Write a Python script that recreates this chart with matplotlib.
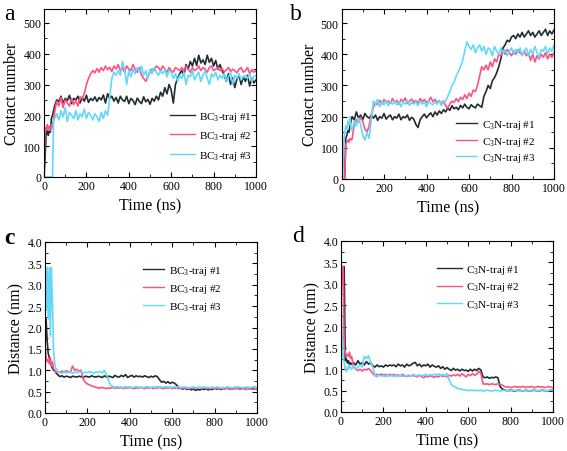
import numpy as np
import matplotlib
matplotlib.use("Agg")
import matplotlib.pyplot as plt
from matplotlib.ticker import MultipleLocator

plt.rcParams['font.family'] = ['Liberation Serif', 'DejaVu Serif']
plt.rcParams['mathtext.fontset'] = 'custom'
plt.rcParams['mathtext.rm'] = 'Liberation Serif'
plt.rcParams['mathtext.it'] = 'Liberation Serif:italic'

# time axis (ns): 5-ns steps up to 45, then 10-ns steps
time_ns = np.concatenate([np.arange(0, 50, 5), np.arange(50, 1001, 10)])

# ---- panel a: contact number, BC3 ----
bc3_contact_1 = [0, 60, 140, 150, 135, 150, 145, 190, 200, 215,
                 230, 250, 245, 262, 240, 255, 248, 265, 238, 255,
                 250, 262, 240, 258, 246, 265, 242, 255, 248, 260,
                 245, 258, 250, 266, 240, 270, 255, 262, 246, 258,
                 240, 262, 250, 245, 262, 238, 255, 248, 235, 256,
                 245, 238, 260, 244, 252, 236, 255, 246, 262, 250,
                 275, 262, 290, 270, 300, 282, 240, 300, 320, 335,
                 345, 330, 365, 350, 375, 360, 385, 362, 395, 370,
                 380, 365, 395, 372, 385, 360, 378, 350, 365, 345,
                 330, 310, 335, 300, 322, 290, 318, 330, 300, 325,
                 310, 330, 295, 320, 305, 315]
bc3_contact_2 = [20, 160, 150, 170, 155, 165, 150, 170, 160, 185,
                 210, 245, 230, 258, 225, 250, 240, 230, 255, 235,
                 248, 230, 260, 255, 270, 300, 320, 335, 345, 338,
                 352, 340, 355, 345, 360, 348, 356, 342, 360, 350,
                 365, 345, 355, 340, 360, 350, 345, 365, 350, 340,
                 355, 330, 320, 310, 325, 340, 350, 345, 360, 355,
                 345, 360, 350, 340, 355, 345, 340, 355, 350, 345,
                 355, 345, 360, 350, 340, 355, 345, 350, 360, 345,
                 355, 350, 340, 355, 360, 345, 350, 355, 345, 352,
                 340, 348, 355, 342, 350, 345, 338, 350, 355, 340,
                 345, 355, 335, 348, 340, 345]
bc3_contact_3 = [0, 0, 0, 0, 0, 0, 0, 0, 0, 180,
                 190, 205, 185, 215, 195, 225, 180, 210, 200, 190,
                 215, 185, 205, 195, 220, 190, 210, 200, 185, 205,
                 195, 180, 210, 190, 215, 200, 260, 320, 340, 330,
                 345, 330, 375, 350, 300, 345, 325, 350, 335, 355,
                 340, 360, 330, 345, 320, 350, 335, 355, 340, 330,
                 345, 335, 350, 325, 345, 340, 320, 335, 310, 330,
                 320, 340, 300, 330, 325, 345, 315, 330, 340, 310,
                 330, 345, 320, 300, 335, 325, 340, 315, 330, 320,
                 335, 310, 325, 340, 300, 330, 320, 335, 315, 325,
                 330, 320, 335, 310, 325, 330]

# ---- panel b: contact number, C3N ----
c3n_contact_1 = [0, 0, 0, 0, 130, 140, 155, 150, 170, 185,
                 200, 190, 215, 195, 205, 190, 210, 200, 195, 205,
                 195, 205, 188, 200, 195, 210, 192, 200, 205, 190,
                 200, 195, 208, 190, 200, 196, 205, 188, 198, 192,
                 175, 165, 190, 200, 208, 196, 205, 212, 200, 215,
                 205, 218, 210, 222, 215, 228, 220, 235, 225, 230,
                 222, 236, 228, 240, 230, 225, 238, 232, 228, 240,
                 235, 230, 265, 280, 300, 290, 315, 325, 340, 360,
                 385, 420, 430, 445, 440, 455, 460, 450, 465, 455,
                 470, 455, 465, 475, 460, 470, 455, 465, 475, 460,
                 470, 480, 460, 475, 465, 478]
c3n_contact_2 = [0, 0, 0, 0, 110, 120, 125, 118, 130, 125,
                 128, 175, 190, 182, 198, 185, 160, 150, 170, 205,
                 230, 245, 238, 252, 240, 255, 245, 250, 242, 258,
                 245, 252, 240, 255, 248, 260, 242, 250, 256, 245,
                 252, 242, 258, 248, 255, 245, 250, 262, 248, 255,
                 245, 252, 240, 250, 235, 228, 240, 250, 245, 258,
                 248, 262, 255, 270, 258, 275, 265, 285, 280, 300,
                 330, 360, 350, 365, 350, 375, 360, 385, 375, 400,
                 395, 410, 400, 415, 405, 395, 410, 400, 415, 405,
                 398, 410, 395, 405, 380, 400, 375, 395, 385, 400,
                 390, 405, 385, 400, 390, 405]
c3n_contact_3 = [0, 0, 100, 150, 170, 160, 185, 175, 200, 165,
                 155, 185, 170, 195, 175, 140, 125, 150, 130, 190,
                 250, 240, 255, 232, 248, 238, 252, 235, 248, 240,
                 250, 238, 245, 232, 248, 240, 252, 236, 245, 240,
                 248, 235, 250, 240, 246, 232, 250, 242, 238, 248,
                 240, 252, 236, 245, 250, 265, 280, 300, 310, 330,
                 345, 360, 380, 410, 440, 425, 415, 430, 405, 420,
                 430, 410, 425, 400, 420, 415, 395, 425, 410, 400,
                 420, 405, 415, 395, 410, 420, 400, 415, 405, 420,
                 395, 410, 420, 395, 415, 400, 425, 405, 390, 415,
                 410, 425, 400, 420, 410, 430]

# ---- panel c: distance, BC3 ----
bc3_dist_1 = [1.5, 2.2, 1.7, 1.4, 1.3, 1.2, 1.1, 1.05, 1.0, 1.0,
              0.95, 0.9, 0.85, 0.87, 0.84, 0.86, 0.85, 0.83, 0.86, 0.85,
              0.84, 0.86, 0.85, 0.83, 0.86, 0.85, 0.84, 0.87, 0.85, 0.84,
              0.86, 0.85, 0.83, 0.87, 0.84, 0.86, 0.85, 0.83, 0.88, 0.85,
              0.84, 0.88, 0.85, 0.9, 0.83, 0.86, 0.88, 0.84, 0.87, 0.85,
              0.86, 0.84, 0.87, 0.85, 0.83, 0.86, 0.84, 0.87, 0.85, 0.78,
              0.72, 0.74, 0.7, 0.73, 0.69, 0.72, 0.7, 0.66, 0.6, 0.58,
              0.56, 0.58, 0.55, 0.57, 0.54, 0.56, 0.53, 0.55, 0.54, 0.56,
              0.55, 0.57, 0.54, 0.56, 0.55, 0.58, 0.56, 0.57, 0.55, 0.58,
              0.57, 0.59, 0.56, 0.58, 0.57, 0.6, 0.58, 0.57, 0.59, 0.58,
              0.6, 0.57, 0.59, 0.58, 0.6, 0.58]
bc3_dist_2 = [1.6, 1.3, 1.2, 1.25, 1.15, 1.3, 1.1, 1.2, 1.05, 1.0,
              0.95, 0.97, 0.95, 0.98, 0.96, 0.99, 0.97, 0.95, 1.1, 1.0,
              1.02, 0.98, 1.0, 0.8, 0.72, 0.68, 0.66, 0.63, 0.62, 0.6,
              0.59, 0.58, 0.6, 0.58, 0.57, 0.59, 0.58, 0.6, 0.58, 0.59,
              0.58, 0.6, 0.57, 0.59, 0.58, 0.6, 0.58, 0.57, 0.59, 0.58,
              0.6, 0.58, 0.57, 0.59, 0.58, 0.6, 0.57, 0.59, 0.58, 0.6,
              0.58, 0.57, 0.59, 0.58, 0.6, 0.57, 0.58, 0.59, 0.57, 0.58,
              0.6, 0.58, 0.57, 0.59, 0.58, 0.57, 0.59, 0.58, 0.6, 0.57,
              0.58, 0.59, 0.57, 0.58, 0.6, 0.57, 0.58, 0.56, 0.58, 0.57,
              0.56, 0.58, 0.57, 0.55, 0.57, 0.56, 0.58, 0.55, 0.57, 0.56,
              0.55, 0.57, 0.56, 0.55, 0.56, 0.55]
bc3_dist_3 = [3.4, 2.4, 3.4, 2.2, 3.4, 1.8, 3.4, 2.6, 1.5, 1.2,
              1.05, 0.98, 0.95, 0.93, 0.96, 0.94, 0.95, 0.97, 0.93, 0.96,
              0.94, 0.97, 0.95, 0.93, 0.96, 0.94, 0.97, 0.95, 0.93, 0.96,
              0.95, 0.97, 0.94, 1.0, 0.9, 0.75, 0.65, 0.62, 0.6, 0.62,
              0.6, 0.61, 0.59, 0.62, 0.6, 0.61, 0.59, 0.6, 0.62, 0.6,
              0.61, 0.59, 0.6, 0.62, 0.6, 0.59, 0.61, 0.6, 0.62, 0.6,
              0.61, 0.6, 0.62, 0.6, 0.61, 0.59, 0.62, 0.6, 0.61, 0.6,
              0.59, 0.61, 0.6, 0.58, 0.6, 0.61, 0.59, 0.6, 0.58, 0.6,
              0.61, 0.59, 0.6, 0.58, 0.6, 0.59, 0.61, 0.6, 0.58, 0.6,
              0.59, 0.61, 0.6, 0.58, 0.6, 0.59, 0.61, 0.6, 0.59, 0.6,
              0.58, 0.6, 0.59, 0.61, 0.6, 0.59]

# ---- panel d: distance, C3N ----
c3n_dist_1 = [3.4, 3.4, 3.4, 3.4, 1.2, 1.25, 1.15, 1.2, 1.1, 1.15,
              1.12, 1.15, 1.1, 1.2, 1.12, 1.15, 1.1, 1.18, 1.12, 1.15,
              1.08, 1.05, 1.1, 1.06, 1.08, 1.05, 1.1, 1.07, 1.1, 1.08,
              1.1, 1.06, 1.12, 1.08, 1.1, 1.05, 1.12, 1.08, 1.1, 1.14,
              1.16, 1.08, 1.12, 1.06, 1.1, 1.08, 1.12, 1.05, 1.1, 1.07,
              1.05, 1.08, 1.02, 1.06, 1.0, 1.04, 1.0, 0.97, 1.02, 0.98,
              1.0, 0.96, 1.0, 0.97, 0.98, 0.95, 1.0, 0.96, 1.0, 0.97,
              1.02, 0.98, 0.82, 0.8, 0.82, 0.79, 0.81, 0.8, 0.82, 0.8,
              0.6, 0.54, 0.52, 0.5, 0.5, 0.51, 0.5, 0.49, 0.5, 0.51,
              0.5, 0.49, 0.51, 0.5, 0.49, 0.5, 0.51, 0.5, 0.49, 0.5,
              0.51, 0.5, 0.49, 0.5, 0.51, 0.5]
c3n_dist_2 = [2.5, 3.4, 3.4, 1.5, 1.4, 1.3, 1.35, 1.3, 1.4, 1.25,
              1.3, 1.05, 1.0, 0.97, 1.0, 0.96, 1.0, 0.98, 1.02, 0.97,
              0.9, 0.85, 0.88, 0.86, 0.89, 0.86, 0.88, 0.85, 0.88, 0.86,
              0.88, 0.85, 0.87, 0.84, 0.88, 0.85, 0.83, 0.86, 0.84, 0.87,
              0.84, 0.82, 0.86, 0.83, 0.8, 0.84, 0.82, 0.85, 0.83, 0.81,
              0.84, 0.82, 0.86, 0.83, 0.85, 0.82, 0.86, 0.84, 0.87, 0.85,
              0.88, 0.84, 0.9, 0.86, 0.82, 0.88, 0.85, 0.9, 0.86, 0.88,
              0.95, 0.9, 0.66, 0.65, 0.66, 0.64, 0.66, 0.65, 0.64, 0.66,
              0.65, 0.63, 0.6, 0.58, 0.59, 0.57, 0.58, 0.6, 0.58, 0.59,
              0.58, 0.6, 0.57, 0.59, 0.58, 0.6, 0.57, 0.58, 0.6, 0.58,
              0.59, 0.57, 0.58, 0.6, 0.58, 0.57]
c3n_dist_3 = [2.6, 1.8, 1.3, 1.15, 1.0, 0.95, 1.05, 1.0, 1.1, 1.05,
              1.0, 1.08, 1.0, 1.05, 1.1, 1.05, 1.3, 1.25, 1.32, 1.15,
              1.05, 0.85, 0.82, 0.86, 0.84, 0.85, 0.83, 0.86, 0.84, 0.85,
              0.83, 0.86, 0.84, 0.85, 0.83, 0.84, 0.86, 0.83, 0.85, 0.84,
              0.86, 0.84, 0.87, 0.85, 0.86, 0.88, 0.85, 0.87, 0.86, 0.88,
              0.87, 0.89, 0.86, 0.88, 0.85, 0.9, 0.75, 0.65, 0.6, 0.58,
              0.55, 0.54, 0.53, 0.52, 0.51, 0.5, 0.51, 0.5, 0.51, 0.5,
              0.5, 0.51, 0.49, 0.5, 0.51, 0.5, 0.49, 0.5, 0.51, 0.5,
              0.49, 0.5, 0.51, 0.5, 0.49, 0.5, 0.51, 0.5, 0.49, 0.5,
              0.5, 0.49, 0.51, 0.5, 0.49, 0.5, 0.51, 0.5, 0.49, 0.5,
              0.51, 0.5, 0.49, 0.5, 0.51, 0.5]

bc3_labels = [r'BC$_3$-traj #1', r'BC$_3$-traj #2', r'BC$_3$-traj #3']
c3n_labels = [r'C$_3$N-traj #1', r'C$_3$N-traj #2', r'C$_3$N-traj #3']
colors = ['#222c33', '#ff5283', '#62d8fa']

fig = plt.figure(figsize=(5.67, 4.52), dpi=100)
W, H = 567, 452


def make_ax(x0, x1, y0, y1):
    return fig.add_axes([x0 / W, 1 - y1 / H, (x1 - x0) / W, (y1 - y0) / H])


panels = [
    (make_ax(44, 256, 10, 178), [bc3_contact_1, bc3_contact_2, bc3_contact_3], bc3_labels,
     'Contact number', (0, 545), 100, 50, 'lower right', (1.03, 0.03), 0.6, 2.2, 'a', (4, 15), 'normal'),
    (make_ax(341.5, 554, 10, 180), [c3n_contact_1, c3n_contact_2, c3n_contact_3], c3n_labels,
     'Contact number', (0, 545), 100, 50, 'lower right', (0.96, 0.03), 0.3, 1.9, 'b', (290, 15), 'normal'),
    (make_ax(45, 257, 243, 414), [bc3_dist_1, bc3_dist_2, bc3_dist_3], bc3_labels,
     'Distance (nm)', (0, 4.0), 0.5, 0.25, 'upper right', (0.88, 0.93), 0.45, 1.9, 'c', (4, 239), 'bold'),
    (make_ax(341, 553, 242, 413), [c3n_dist_1, c3n_dist_2, c3n_dist_3], c3n_labels,
     'Distance (nm)', (0, 4.0), 0.5, 0.25, 'upper right', (0.89, 0.93), 0.4, 2.2, 'd', (292, 237), 'normal'),
]

for ax, series, labels, ylabel, ylim, ymaj, ymin, loc, anchor, lsp, hl, letter, lpos, lw in panels:
    for vals, lab, col in zip(series, labels, colors):
        ax.plot(time_ns, vals, color=col, lw=1.2, label=lab)
    ax.set_xlim(0, 1000)
    ax.set_ylim(*ylim)
    ax.xaxis.set_major_locator(MultipleLocator(200))
    ax.xaxis.set_minor_locator(MultipleLocator(100))
    ax.yaxis.set_major_locator(MultipleLocator(ymaj))
    ax.yaxis.set_minor_locator(MultipleLocator(ymin))
    if ymaj < 1:
        ax.yaxis.set_major_formatter(plt.FormatStrFormatter('%.1f'))
    ax.tick_params(which='both', direction='in', top=True, right=True, labelsize=8.5, pad=2)
    ax.tick_params(which='major', length=3.5)
    ax.tick_params(which='minor', length=2)
    ax.set_xlabel('Time (ns)', fontsize=11.5, labelpad=4)
    ax.set_ylabel(ylabel, fontsize=11.5, labelpad=2)
    leg = ax.legend(loc=loc, bbox_to_anchor=anchor, frameon=False, fontsize=8,
                    handlelength=hl, handletextpad=0.4, labelspacing=lsp)
    for ln in leg.get_lines():
        ln.set_linewidth(1.0)
    fig.text(lpos[0] / W, 1 - lpos[1] / H, letter, fontsize=17, va='center', ha='left',
             fontweight=lw)

fig.savefig('out.png', dpi=100)
